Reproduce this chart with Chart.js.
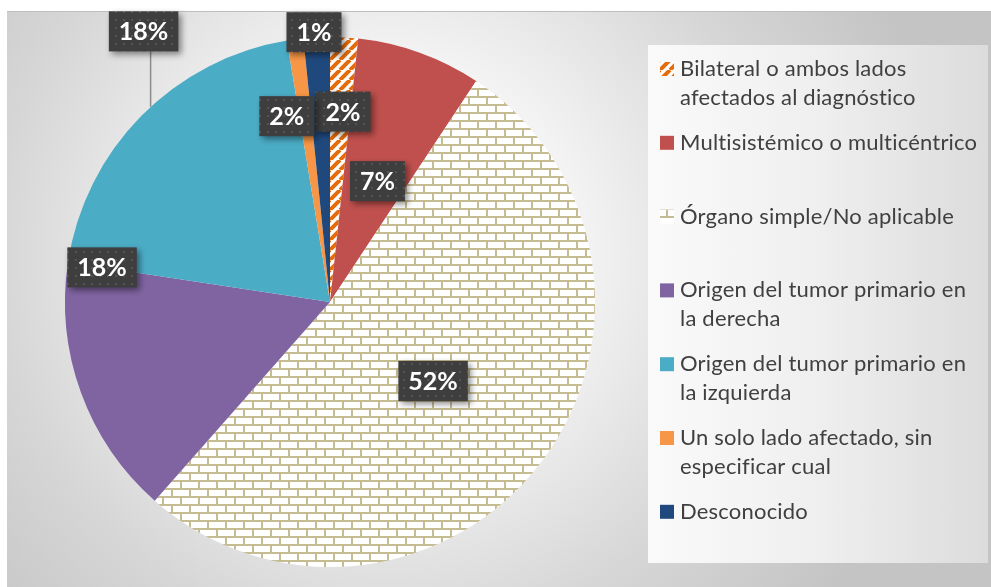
<!DOCTYPE html>
<html>
<head>
<meta charset="utf-8">
<script src="https://cdn.jsdelivr.net/npm/chart.js@4.4.1/dist/chart.umd.min.js"></script>
<style>
  html, body { margin: 0; padding: 0; background: #ffffff; }
  #marco {
    position: absolute; left: 7px; top: 11px; width: 984px; height: 576px;
    border-top: 1px solid #bdbdbd;
    background: radial-gradient(circle 560px at 380px 240px, #ffffff 0%, #f3f3f3 35%, #d6d6d6 70%, #c4c4c4 100%);
  }
  #cajaLeyenda {
    position: absolute; left: 648px; top: 45px; width: 340px; height: 518px;
    background: linear-gradient(90deg, #fafafa 0%, #efefef 50%, #dcdcdc 100%);
  }
  #graficoPie { position: absolute; left: 0; top: 0; }
</style>
</head>
<body>
<div id="marco"></div>
<div id="cajaLeyenda"></div>
<canvas id="graficoPie" width="991" height="587"></canvas>
<script>
// Categorías (cada una partida en líneas como en la leyenda)
const categorias = [
  ['Bilateral o ambos lados', 'afectados al diagnóstico'],
  ['Multisistémico o multicéntrico'],
  ['Órgano simple/No aplicable'],
  ['Origen del tumor primario en', 'la derecha'],
  ['Origen del tumor primario en', 'la izquierda'],
  ['Un solo lado afectado, sin', 'especificar cual'],
  ['Desconocido']
];
// Tamaño de cada porción
const valores = [1.7, 7.6, 52.2, 15.9, 20.0, 1.0, 1.6];
// Etiquetas de porcentaje que muestra el gráfico
const etiquetas = ['2%', '7%', '52%', '18%', '18%', '2%', '1%'];

const ctx = document.getElementById('graficoPie').getContext('2d');

// Patrón de rayas diagonales naranjas
function patronRayas() {
  const c = document.createElement('canvas');
  c.width = 10; c.height = 10;
  const g = c.getContext('2d');
  g.fillStyle = '#ffffff';
  g.fillRect(0, 0, 10, 10);
  g.strokeStyle = '#e46c0a';
  g.lineWidth = 4;
  g.beginPath();
  for (let k = -10; k <= 20; k += 10) {
    g.moveTo(k, 10); g.lineTo(k + 10, 0);
  }
  g.stroke();
  return ctx.createPattern(c, 'repeat');
}

// Patrón de ladrillos
function patronLadrillo() {
  const c = document.createElement('canvas');
  c.width = 36; c.height = 16;
  const g = c.getContext('2d');
  g.fillStyle = '#c6bc92';
  g.fillRect(0, 0, 36, 16);
  g.fillStyle = '#ffffff';
  [0, 18].forEach(x => g.fillRect(x + 2, 2, 16, 6));
  [-9, 9, 27].forEach(x => g.fillRect(x + 2, 10, 16, 6));
  return ctx.createPattern(c, 'repeat');
}

// Patrón punteado para las cajas de etiqueta
function patronPuntos() {
  const c = document.createElement('canvas');
  c.width = 8; c.height = 8;
  const g = c.getContext('2d');
  g.fillStyle = '#3e3e3e';
  g.fillRect(0, 0, 8, 8);
  g.fillStyle = '#545454';
  g.fillRect(3, 3, 2, 2);
  return ctx.createPattern(c, 'repeat');
}

const colores = [patronRayas(), '#c0504d', patronLadrillo(), '#8064a2', '#4bacc6', '#f79646', '#1f497d'];

// Posición de cada etiqueta: fracción dentro del arco (t) y del radio (r)
const posEtiqueta = [
  { t: 0.64, r: 0.72 },
  { t: 0.56, r: 0.49 },
  { t: 0.50, r: 0.49 },
  { t: 1.00, r: 0.87 },
  { t: 0.65, r: 1.24, guia: true },
  { t: -1.03, r: 0.72 },
  { t: 0.41, r: 1.02 }
];

const pluginEtiquetas = {
  id: 'etiquetas',
  afterDatasetsDraw(chart) {
    const c = chart.ctx;
    const puntos = patronPuntos();
    chart.getDatasetMeta(0).data.forEach((arco, i) => {
      const p = posEtiqueta[i];
      const a = arco.startAngle + p.t * (arco.endAngle - arco.startAngle);
      const R = arco.outerRadius;
      const x = arco.x + Math.cos(a) * R * p.r;
      const y = arco.y + Math.sin(a) * R * p.r;
      c.save();
      c.font = 'bold 25px Lato';
      const w = c.measureText(etiquetas[i]).width + 20;
      const h = 40;
      if (p.guia) {
        const lx = x + 7;
        const ly = arco.y - Math.sqrt(R * R - (lx - arco.x) * (lx - arco.x));
        c.strokeStyle = '#8c8c8c';
        c.lineWidth = 1.5;
        c.beginPath();
        c.moveTo(lx, y + h / 2);
        c.lineTo(lx, ly);
        c.stroke();
      }
      c.shadowColor = 'rgba(0,0,0,0.45)';
      c.shadowBlur = 6;
      c.shadowOffsetX = 3;
      c.shadowOffsetY = 3;
      c.fillStyle = puntos;
      c.fillRect(x - w / 2, y - h / 2, w, h);
      c.shadowColor = 'transparent';
      c.fillStyle = '#ffffff';
      c.textAlign = 'center';
      c.textBaseline = 'middle';
      c.fillText(etiquetas[i], x, y + 1);
      c.restore();
    });
  }
};

// Leyenda dibujada a mano a la derecha
const pluginLeyenda = {
  id: 'leyendaDerecha',
  afterDraw(chart) {
    const c = chart.ctx;
    const fondos = chart.data.datasets[0].backgroundColor;
    c.save();
    c.font = '22px Lato';
    c.letterSpacing = '0.2px';
    c.textBaseline = 'middle';
    chart.data.labels.forEach((lineas, i) => {
      const y0 = 69 + i * 73.8;
      c.fillStyle = fondos[i];
      c.fillRect(660, y0 - 7, 14, 14);
      c.fillStyle = '#404040';
      lineas.forEach((txt, j) => c.fillText(txt, 680, y0 + j * 29));
    });
    c.restore();
  }
};

new Chart(ctx, {
  type: 'pie',
  data: {
    labels: categorias,
    datasets: [{
      data: valores,
      backgroundColor: colores,
      borderWidth: 0
    }]
  },
  options: {
    responsive: false,
    animation: false,
    layout: { padding: { left: 65, right: 396, top: 37, bottom: 20 } },
    plugins: {
      legend: { display: false },
      tooltip: { enabled: false }
    }
  },
  plugins: [pluginEtiquetas, pluginLeyenda]
});
</script>
</body>
</html>
